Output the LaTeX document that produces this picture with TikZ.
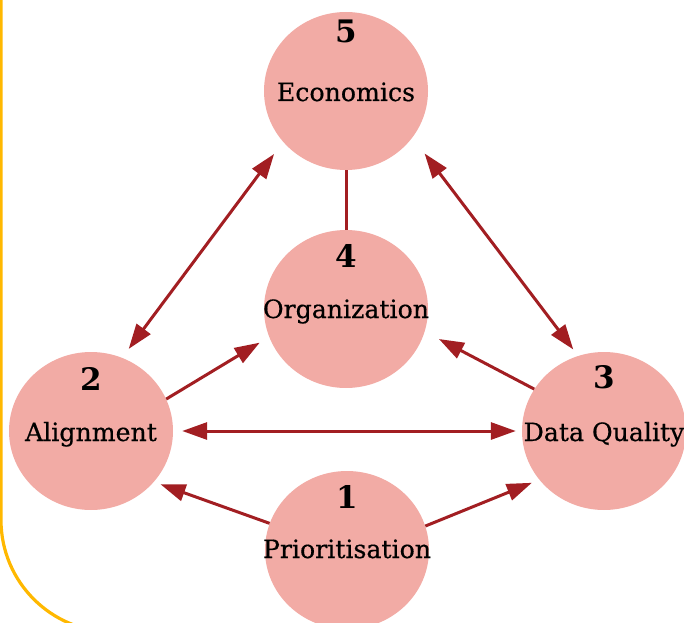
\documentclass[tikz,border=0pt]{standalone}
\usepackage{fontspec}
\setmainfont{DejaVu Serif}
\newfontfamily\topicfont{DejaVu Serif}[FakeBold=0.5]
\usetikzlibrary{arrows.meta,shapes.geometric}
\definecolor{bubblefill}{HTML}{F2ABA5}
\definecolor{linkred}{HTML}{A21E22}
\definecolor{framegold}{HTML}{FFB800}
\begin{document}
\begin{tikzpicture}[x=1pt,y=1pt,
  >={Triangle[length=25pt,width=17pt]},
  bubble/.style={ellipse, fill=bubblefill, minimum width=164pt, minimum height=158pt, inner sep=0pt},
  nametext/.style={anchor=base, font=\topicfont\fontsize{25.2}{29}\selectfont, inner sep=0pt},
  numtext/.style={anchor=base, font=\fontsize{31}{34}\selectfont\bfseries, inner sep=0pt},
  link/.style={draw=linkred, line width=3pt}]
  \useasboundingbox (0,0) rectangle (684,622);
  \clip (0,0) rectangle (684,622);

  % rounded frame, only its lower-left corner is in view
  \draw[framegold, line width=3.2pt] (1,640) -- (1,102)
    arc[start angle=180, end angle=270, radius=112] -- (700,-10);

  % the five topics
  \node[bubble] (econ)  at (346,531) {};
  \node[bubble] (org)   at (346,313) {};
  \node[bubble] (align) at (91,191)  {};
  \node[bubble] (dq)    at (604,191) {};
  \node[bubble] (prior) at (347,72)  {};

  \node[numtext]  (econnum)   at ([yshift=48pt]econ.center)  {5};
  \node[nametext] (econname)  at ([yshift=-10pt]econ.center) {Economics};
  \node[numtext]  (orgnum)    at ([yshift=42pt]org.center)   {4};
  \node[nametext] (orgname)   at ([yshift=-9pt]org.center)   {Organization};
  \node[numtext]  (alignnum)  at ([yshift=41pt]align.center) {2};
  \node[nametext] (alignname) at ([yshift=-10pt]align.center) {Alignment};
  \node[numtext]  (dqnum)     at ([yshift=43pt]dq.center)    {3};
  \node[nametext] (dqname)    at ([yshift=-10pt]dq.center)   {Data Quality};
  \node[numtext]  (priornum)  at ([yshift=42pt]prior.center) {1};
  \node[nametext] (priorname) at ([yshift=-8pt]prior.center) {Prioritisation};

  % connectors
  \draw[link,<->,shorten <=15pt,shorten >=11pt] (econ.219.4) -- (align.67.8);
  \draw[link,<->,shorten <=20pt,shorten >=8pt]  (econ.325.2) -- (dq.109.7);
  \draw[link] (econ.south) -- (org.north);
  \draw[link,->,shorten >=11pt] (align.23.1) -- (org.200.9);
  \draw[link,->,shorten >=16pt] (dq.149.9) -- (org.344.5);
  \draw[link,<->,shorten <=9pt,shorten >=6pt] (align.east) -- (dq.west);
  \draw[link,->,shorten >=7pt] (prior.161.1) -- (align.321.6);
  \draw[link,->,shorten >=8pt] (prior.17.4) -- (dq.217);
\end{tikzpicture}
\end{document}
